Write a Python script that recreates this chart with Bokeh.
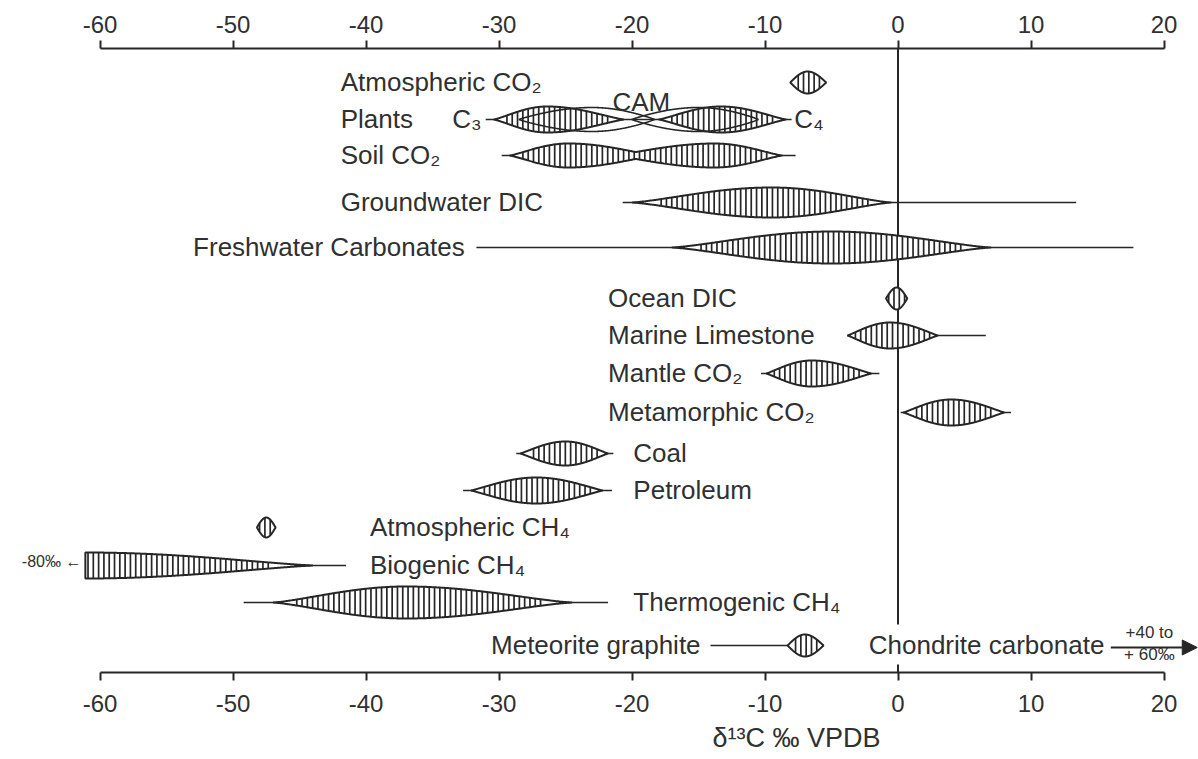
import numpy as np
from bokeh.plotting import figure
from bokeh.models import (Range1d, LinearAxis, FixedTicker, Title, Arrow,
                          NormalHead, ColumnDataSource, PrintfTickFormatter)
from bokeh.core.properties import value
from bokeh.embed import file_html
from bokeh.resources import INLINE

# ---------------- data (δ13C, ‰ VPDB) ----------------
names = ["Atmospheric CO₂", "Plants", "Soil CO₂", "Groundwater DIC",
         "Freshwater Carbonates", "Ocean DIC", "Marine Limestone", "Mantle CO₂",
         "Metamorphic CO₂", "Coal", "Petroleum", "Atmospheric CH₄",
         "Biogenic CH₄", "Thermogenic CH₄", "Meteorite graphite"]
# full range (thin line)
range_lo = [-8.1, -31.0, -29.8, -20.7, -31.7, -0.9, -3.8, -10.3, 0.2, -28.7, -32.7, -48.2, -61.1, -49.2, -14.1]
range_hi = [-5.4, -8.0, -7.7, 13.4, 17.7, 0.7, 6.6, -1.4, 8.5, -21.4, -21.5, -46.8, -41.5, -21.8, -5.6]
# common ranges (hatched spindles): row index, shape id, low, mode, high
lens_row = [0, 1, 1, 2, 2, 3, 4, 5, 6, 7, 8, 9, 10, 11, 12, 13, 14]
lens_shape = [0, 1, 2, 3, 3, 4, 5, 6, 7, 8, 9, 10, 11, 12, 13, 14, 15]
lens_lo = [-8.1, -30.4, -18.0, -29.2, -21.5, -20.0, -17.0, -0.9, -3.8, -9.9, 0.4, -28.4, -32.1, -48.2, -61.1, -47.0, -8.3]
lens_mode = [-6.8, -26.4, -13.3, -24.8, -13.8, -9.5, -5.0, -0.1, -0.6, -6.5, 4.0, -25.0, -27.2, -47.5, -61.1, -37.0, -7.0]
lens_hi = [-5.4, -20.6, -8.4, -18.2, -8.7, -0.5, 7.0, 0.7, 3.0, -2.0, 8.0, -21.8, -22.2, -46.8, -44.0, -24.5, -5.6]
# CAM plants (outline only)
cam_lo = [-28.5, -20.0]
cam_mode = [-23.0, -15.0]
cam_hi = [-18.3, -10.5]
ticks = [-60, -50, -40, -30, -20, -10, 0, 10, 20]

# ---------------- layout / style ----------------
row_y = [82, 119, 155, 202, 247, 298, 335, 373, 412, 453, 490, 527, 565, 602, 645]
label_x = [-41.9, -41.9, -41.9, -41.9, -53.0, -21.8, -21.8, -21.8, -21.8, -19.9, -19.9,
           -39.7, -39.7, -19.9, -30.6]
lens_half = [11, 13, 13, 12, 12, 15, 16, 11, 13, 13, 13, 12, 13, 10, 13, 16, 11]
lens_pow = [1.0, 1.2, 1.2, 1.2, 1.2, 1.3, 1.3, 1.0, 1.1, 1.1, 1.1, 1.1, 1.1, 1.0, 1.2, 1.3, 1.0]
INK = "#262626"
TXT = "#303030"
FONT = "Liberation Sans"
PX = 13.3  # pixels per permil
ZERO_PX = 897.5
BASE = -1  # text baseline offset relative to the row centre


def spindle(xs, lo, md, hi, half, pw):
    t = np.empty_like(xs)
    left = xs < md
    if md > lo:
        t[left] = 0.5 * (xs[left] - lo) / (md - lo)
    else:
        t[left] = 0.5
    t[~left] = 0.5 + 0.5 * (xs[~left] - md) / (hi - md)
    t = np.clip(t, 0, 1)
    return half * np.sin(np.pi * t) ** pw


W, H = 1198, 759
p = figure(width=W, height=H,
           x_range=Range1d(-ZERO_PX / PX, (W - ZERO_PX) / PX), y_range=Range1d(672, 48),
           output_backend="svg", toolbar_location=None, x_axis_location=None,
           y_axis_location=None, min_border_left=0, min_border_right=0,
           min_border_top=48, min_border_bottom=H - 672)
p.grid.visible = False
p.outline_line_color = None

for loc, standoff in (("above", 8), ("below", 14)):
    ax = LinearAxis(ticker=FixedTicker(ticks=ticks), bounds=(-60, 20),
                    formatter=PrintfTickFormatter(format="%d"))
    ax.axis_line_width = 2
    ax.axis_line_color = INK
    ax.major_tick_line_width = 2
    ax.major_tick_line_color = INK
    ax.major_tick_in = 0
    ax.major_tick_out = 8
    ax.minor_tick_line_color = None
    ax.major_label_text_font = FONT
    ax.major_label_text_font_size = "24px"
    ax.major_label_text_color = TXT
    ax.major_label_standoff = standoff
    p.add_layout(ax, loc)

p.add_layout(Title(text="δ¹³C ‰ VPDB", align="left", offset=712, standoff=12,
                   text_font=FONT, text_font_size="27px", text_font_style="normal",
                   text_line_height=0.8, text_color=TXT), "below")

# zero line (interrupted by the chondrite label)
p.segment(x0=[0, 0], x1=[0, 0], y0=[48, 664], y1=[624, 672], line_color=INK, line_width=2)

# thin range lines
p.segment(x0=range_lo, x1=range_hi, y0=row_y, y1=row_y, line_color=INK, line_width=1.7)

# hatched spindles (components with the same shape id are merged)
step = 5.3 / PX
hx0, hx1, hy0, hy1 = [], [], [], []
for s in sorted(set(lens_shape)):
    idx = [i for i, v in enumerate(lens_shape) if v == s]
    lo = min(lens_lo[i] for i in idx)
    hi = max(lens_hi[i] for i in idx)
    yc = row_y[lens_row[idx[0]]]
    xs = np.linspace(lo, hi, 300)
    h = np.max([spindle(xs, lens_lo[i], lens_mode[i], lens_hi[i], lens_half[i], lens_pow[i])
                for i in idx], axis=0)
    p.patch(np.concatenate([xs, xs[::-1]]), np.concatenate([yc - h, (yc + h)[::-1]]),
            fill_color="white", fill_alpha=1.0, line_color=INK, line_width=2.0)
    xh = np.arange(lo + step / 2, hi, step)
    hh = np.max([spindle(xh, lens_lo[i], lens_mode[i], lens_hi[i], lens_half[i], lens_pow[i])
                 for i in idx], axis=0)
    keep = hh > 3.0
    hx0 += list(xh[keep]); hx1 += list(xh[keep])
    hy0 += list(yc - hh[keep]); hy1 += list(yc + hh[keep])
p.segment(x0=hx0, x1=hx1, y0=hy0, y1=hy1, line_color=INK, line_width=1.7)

# CAM outline
for j in range(len(cam_lo)):
    yc = row_y[1]
    xs = np.linspace(cam_lo[j], cam_hi[j], 200)
    h = spindle(xs, cam_lo[j], cam_mode[j], cam_hi[j], 12, 0.9)
    p.patch(np.concatenate([xs, xs[::-1]]), np.concatenate([yc - h, (yc + h)[::-1]]),
            fill_color=None, line_color=INK, line_width=1.6)

# row labels
src = ColumnDataSource(dict(x=label_x, y=[y + BASE for y in row_y], t=names))
p.text(x="x", y="y", text="t", source=src, text_font=value(FONT), text_font_size="26px",
       text_color=TXT, text_baseline="alphabetic", text_align="left")
# extra labels
p.text(x=[-31.3], y=[row_y[1] + BASE], text=["C₃"], text_font=value(FONT), text_font_size="26px",
       text_color=TXT, text_align="right", text_baseline="alphabetic")
p.text(x=[-7.8], y=[row_y[1] + BASE], text=["C₄"], text_font=value(FONT), text_font_size="26px",
       text_color=TXT, text_align="left", text_baseline="alphabetic")
p.text(x=[-19.3], y=[row_y[1] - 18], text=["CAM"], text_font=value(FONT), text_font_size="26px",
       text_color=TXT, text_align="center", text_baseline="alphabetic")
p.text(x=[-2.2], y=[row_y[14] + BASE], text=["Chondrite carbonate"], text_font=value(FONT),
       text_font_size="26px", text_color=TXT, text_align="left", text_baseline="alphabetic")
p.text(x=[-61.4], y=[row_y[12] - 4], text=["-80‰ ←"], text_font=value(FONT),
       text_font_size="16px", text_color=TXT, text_align="right", text_baseline="alphabetic")
p.text(x=[18.9, 18.9], y=[row_y[14] - 13, row_y[14] + 9], text=["+40 to", "+ 60‰"],
       text_font=value(FONT), text_font_size="17px", text_color=TXT, text_align="center",
       text_baseline="alphabetic")
p.add_layout(Arrow(end=NormalHead(size=15, fill_color=INK, line_color=INK),
                   x_start=16.0, y_start=row_y[14] + 2, x_end=22.5, y_end=row_y[14] + 2,
                   line_color=INK, line_width=2))

open("out.html", "w").write(file_html(p, INLINE))
